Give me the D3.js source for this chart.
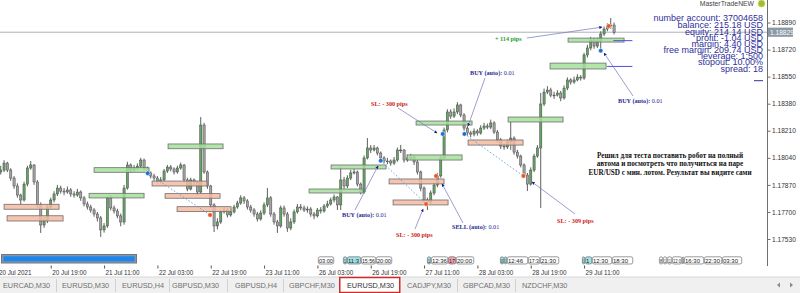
<!DOCTYPE html>
<html><head><meta charset="utf-8">
<script src="https://cdn.jsdelivr.net/npm/d3@7"></script>
<style>html,body{margin:0;padding:0;background:#fff;overflow:hidden}</style>
</head><body><svg id="c" width="800" height="293" xmlns="http://www.w3.org/2000/svg"></svg>
<script>
// ---------- DATA ----------
const firstOpen = 1.17932;
const closes = [
1.17951,1.17963,1.18007,1.17963,1.17913,1.17863,1.17806,1.17775,1.17875,1.17976,
1.17995,1.17888,1.17744,1.17618,1.17649,1.17731,1.17775,1.17813,1.17850,1.17831,
1.17825,1.17838,1.17813,1.17806,1.17825,1.17788,1.17750,1.17731,1.17712,1.17687,
1.17662,1.17587,1.17612,1.17788,1.17725,1.17706,1.17675,1.17637,1.17850,1.17995,
1.17963,1.17976,1.17988,1.18026,1.17976,1.17945,1.17926,1.17913,1.17894,1.17901,
1.17957,1.17982,1.17970,1.17951,1.17976,1.17995,1.17901,1.17844,1.17901,1.17888,
1.17825,1.18246,1.17951,1.17863,1.17744,1.17612,1.17637,1.17700,1.17712,1.17681,
1.17700,1.17731,1.17756,1.17788,1.17769,1.17731,1.17712,1.17687,1.17656,1.17693,
1.17744,1.17788,1.17687,1.17637,1.17612,1.17725,1.17687,1.17599,1.17637,1.17700,
1.17731,1.17725,1.17712,1.17718,1.17687,1.17675,1.17712,1.17706,1.17737,1.17750,
1.17775,1.17794,1.17744,1.17901,1.17863,1.17913,1.17945,1.17951,1.17875,1.17825,
1.18039,1.18102,1.18089,1.18102,1.18070,1.18039,1.18020,1.18020,1.18007,1.18026,
1.18089,1.18089,1.18026,1.18039,1.18045,1.18014,1.17951,1.17850,1.17775,1.17762,
1.17819,1.17869,1.17926,1.18039,1.18215,1.18328,1.18302,1.18328,1.18372,1.18309,
1.18227,1.18196,1.18189,1.18208,1.18196,1.18227,1.18240,1.18233,1.18259,1.18202,
1.18152,1.18114,1.18108,1.18139,1.18164,1.18076,1.18051,1.17995,1.17932,1.17875,
1.17963,1.18051,1.18102,1.18378,1.18453,1.18466,1.18434,1.18434,1.18447,1.18416,
1.18478,1.18529,1.18516,1.18529,1.18547,1.18541,1.18686,1.18730,1.18780,1.18742,
1.18774,1.18818,1.18849,1.18868,1.18874,1.18829];
const highs = [
1.17970,1.17990,1.18025,1.18015,1.17975,1.17925,1.17880,1.17815,1.17890,1.17990,
1.18020,1.18000,1.17900,1.17760,1.17670,1.17745,1.17790,1.17830,1.17870,1.17865,
1.17850,1.17860,1.17850,1.17830,1.17845,1.17835,1.17800,1.17765,1.17745,1.17725,
1.17700,1.17675,1.17630,1.17800,1.17805,1.17740,1.17720,1.17690,1.17870,1.18015,
1.18005,1.17995,1.18005,1.18040,1.18035,1.17985,1.17955,1.17940,1.17925,1.17920,
1.17970,1.17995,1.17995,1.17980,1.17990,1.18010,1.18000,1.17915,1.17915,1.17910,
1.17895,1.18296,1.18260,1.17960,1.17870,1.17755,1.17660,1.17715,1.17730,1.17725,
1.17720,1.17745,1.17770,1.17805,1.17800,1.17780,1.17745,1.17725,1.17700,1.17710,
1.17760,1.17850,1.17800,1.17700,1.17650,1.17740,1.17740,1.17700,1.17660,1.17715,
1.17750,1.17750,1.17740,1.17735,1.17730,1.17700,1.17725,1.17730,1.17750,1.17770,
1.17790,1.17810,1.17800,1.17982,1.17920,1.17930,1.17965,1.17970,1.17960,1.17885,
1.18055,1.18164,1.18120,1.18120,1.18110,1.18080,1.18050,1.18040,1.18030,1.18045,
1.18105,1.18121,1.18095,1.18060,1.18065,1.18055,1.18025,1.17960,1.17860,1.17790,
1.17835,1.17885,1.17945,1.18055,1.18230,1.18345,1.18345,1.18350,1.18390,1.18380,
1.18320,1.18240,1.18210,1.18225,1.18220,1.18245,1.18260,1.18255,1.18280,1.18270,
1.18215,1.18165,1.18130,1.18155,1.18270,1.18175,1.18090,1.18060,1.18005,1.17945,
1.17980,1.18065,1.18120,1.18447,1.18475,1.18490,1.18480,1.18455,1.18465,1.18460,
1.18495,1.18545,1.18540,1.18550,1.18565,1.18560,1.18700,1.18750,1.18800,1.18795,
1.18795,1.18835,1.18865,1.18885,1.18918,1.18890];
const lows = [
1.17910,1.17935,1.17950,1.17950,1.17895,1.17845,1.17790,1.17745,1.17765,1.17860,
1.17965,1.17870,1.17725,1.17568,1.17600,1.17630,1.17720,1.17760,1.17800,1.17815,
1.17805,1.17815,1.17795,1.17790,1.17795,1.17770,1.17735,1.17715,1.17695,1.17670,
1.17640,1.17543,1.17570,1.17600,1.17710,1.17690,1.17660,1.17610,1.17620,1.17840,
1.17945,1.17950,1.17965,1.17975,1.17960,1.17930,1.17910,1.17895,1.17880,1.17880,
1.17890,1.17945,1.17955,1.17935,1.17940,1.17965,1.17885,1.17830,1.17835,1.17870,
1.17805,1.17815,1.17940,1.17845,1.17725,1.17574,1.17590,1.17625,1.17690,1.17665,
1.17670,1.17690,1.17720,1.17745,1.17750,1.17715,1.17695,1.17670,1.17640,1.17645,
1.17680,1.17730,1.17670,1.17620,1.17568,1.17600,1.17670,1.17575,1.17585,1.17625,
1.17690,1.17710,1.17700,1.17695,1.17670,1.17655,1.17665,1.17690,1.17695,1.17725,
1.17740,1.17760,1.17712,1.17712,1.17845,1.17850,1.17900,1.17935,1.17860,1.17810,
1.17815,1.18030,1.18070,1.18080,1.18055,1.18020,1.18005,1.18000,1.17990,1.17995,
1.18015,1.18070,1.18010,1.18015,1.18025,1.17995,1.17935,1.17830,1.17755,1.17712,
1.17750,1.17805,1.17855,1.17915,1.18030,1.18200,1.18285,1.18290,1.18315,1.18295,
1.18210,1.18180,1.18170,1.18175,1.18180,1.18185,1.18215,1.18220,1.18220,1.18190,
1.18135,1.18095,1.18090,1.18095,1.18090,1.18060,1.18035,1.17980,1.17915,1.17831,
1.17865,1.17950,1.18040,1.17725,1.18365,1.18440,1.18420,1.18410,1.18425,1.18395,
1.18405,1.18465,1.18500,1.18505,1.18520,1.18525,1.18530,1.18670,1.18715,1.18725,
1.18730,1.18704,1.18805,1.18835,1.18850,1.18815];

const timeLabels = ["20 Jul 2021","20 Jul 19:00","21 Jul 11:00","22 Jul 03:00","22 Jul 19:00","23 Jul 11:00",
  "26 Jul 03:00","26 Jul 19:00","27 Jul 11:00","28 Jul 03:00","28 Jul 19:00","29 Jul 11:00"];
const timeLabelBars = [0,16,32,48,64,80,96,112,128,144,160,176];
const priceTicks = [1.17530,1.17700,1.17870,1.18040,1.18210,1.18380,1.18550,1.18720,1.18890];
const currentPrice = 1.18829;

// order levels: [startBar, endBar, upperPrice, lowerPrice]
const buyLevels = [
 [29.0,45.5,1.17978,1.17949],[27.5,44.0,1.17817,1.17788],[51.2,67.7,1.18127,1.18097],
 [93.5,109.7,1.17844,1.17819],[100.1,116.6,1.17995,1.17970],[122.9,139.4,1.18058,1.18026],
 [125.6,142.4,1.18271,1.18246],[153.2,169.7,1.18296,1.18265],[165.8,182.6,1.18635,1.18598],
 [171.2,188.0,1.18792,1.18767]];
const sellLevels = [
 [2.0,18.5,1.17748,1.17717],[2.9,19.7,1.17676,1.17643],[46.4,62.9,1.17894,1.17863],
 [50.3,66.8,1.17815,1.17786],[53.9,70.1,1.17733,1.17702],[117.5,134.0,1.17907,1.17876],
 [118.7,135.2,1.17775,1.17744],[141.2,157.7,1.18152,1.18120]];
// deals: [bar, price]
const buyDeals = [[45.1,1.17943],[115.0,1.18022],[133.6,1.18190],[140.1,1.18190],[181.0,1.18713]];
const sellDeals = [[63.8,1.17681],[128.6,1.17750],[131.6,1.17926],[157.8,1.17926],[183.4,1.18868]];
const dealLinks = [[0,0],[1,1],[3,3]];
// position lines: [startBar, endBar, price]
const posLines = [[184.8,190.5,1.18776],[182.9,190.5,1.18614]];

// annotations: text parts, arrow target [bar, price], text anchor (px), line start (px)
const notes = [
 {parts:[["BUY (auto):",1],[" 0.01",0]], color:"#2a2a90", target:[114.2,1.17989], tx:342, ty:217, lx:355, ly:210},
 {parts:[["SL: - 300 pips",1]], color:"#cc1a1a", target:[131.9,1.18196], tx:371, ty:106, lx:398, ly:108},
 {parts:[["BUY (auto):",1],[" 0.01",0]], color:"#2a2a90", target:[141.2,1.18240], tx:470, ty:75, lx:485, ly:78},
 {parts:[["SL: - 300 pips",1]], color:"#cc1a1a", target:[127.7,1.17718], tx:396, ty:237, lx:415, ly:229},
 {parts:[["SELL (auto):",1],[" 0.01",0]], color:"#2a2a90", target:[133.4,1.17876], tx:452, ty:229, lx:463, ly:223},
 {parts:[["SL: - 309 pips",1]], color:"#cc1a1a", target:[160.4,1.17888], tx:557, ty:223, lx:575, ly:214},
 {parts:[["BUY (auto):",1],[" 0.01",0]], color:"#2a2a90", target:[182.0,1.18698], tx:618, ty:103, lx:633, ly:96},
 {parts:[["+ 114 pips",1]], color:"#22a022", target:[181.4,1.18861], tx:495, ty:41, lx:527, ly:38}
];
const commentLines = ["Решил для теста поставить робот на полный",
  "автома и посмотреть что получиться на паре",
  "EUR/USD с мин. лотом. Результат вы видите сами"];
const infoLines = ["number account: 37004658","balance: 215.18 USD","equity: 214.14 USD","profit: -1.04 USD",
  "margin: 4.40 USD","free margin: 209.74 USD","leverage: 1:500","stopout: 10.00%","spread: 18"];
const tabs = ["EURCAD,M30","EURUSD,M30","EURUSD,H4","GBPUSD,M30","GBPUSD,H4","GBPCHF,M30","EURUSD,M30","CADJPY,M30","GBPCAD,M30","NZDCHF,M30"];
const activeTab = 6;
// time tags: [startBar, endBar, text, kind]
const timeTags = [
 [96.2,101.0,"03:00","w"],[103.7,104.9,"1","c"],[104.9,109.1,"11:3","c"],[109.1,113.6,"15:56","w"],[113.6,118.4,"20:00","w"],
 [128.9,130.1,"1","c"],[130.1,135.2,"12:36","w"],[135.2,137.6,"17","p"],[137.6,143.0,"20:00","w"],
 [150.8,152.0,"0","c"],[152.0,152.9,"1","c"],[152.9,159.2,"12:46","w"],[159.2,162.8,"17:3","w"],[162.8,168.5,"21:30","w"],
 [175.4,176.3,"1","c"],[176.3,178.4,"1","c"],[178.4,184.4,"12:30","w"],[184.4,190.7,"18:30","w"],
 [198.5,199.7,"8","w"],[199.7,200.9,"1","w"],[200.9,202.4,"11","w"],[202.4,205.4,"12:0","w"],[205.4,206.0,"1","w"],
 [206.0,212.0,"16:30","w"],[212.0,217.4,"22:30","w"],[217.4,223.4,"03:30","w"]];

// ---------- DRAW ----------
const svg = d3.select("#c");
const SANS = "'Liberation Sans', Arial, sans-serif";
const SERIF = "'Liberation Serif', 'Times New Roman', serif";
const axisX = 767;
const x = d3.scaleLinear().domain([0, 185]).range([-2.6, -2.6 + 185*10/3]);
const y = d3.scaleLinear().domain([1.17530, 1.18890]).range([239, 22.5]);

svg.append("rect").attr("width",800).attr("height",293).attr("fill","#fff");
const defs = svg.append("defs");
defs.append("clipPath").attr("id","plot").append("rect").attr("x",0).attr("y",0).attr("width",axisX).attr("height",266);
defs.append("marker").attr("id","ah").attr("viewBox","0 0 8 8").attr("refX",7).attr("refY",4)
  .attr("markerWidth",4.5).attr("markerHeight",4.5).attr("orient","auto")
  .append("path").attr("d","M0,0L8,4L0,8z").attr("fill","#1c1c8c");

const plot = svg.append("g").attr("clip-path","url(#plot)");

// bid line
plot.append("line").attr("x1",0).attr("x2",axisX).attr("y1",y(currentPrice)).attr("y2",y(currentPrice))
  .attr("stroke","#a9b1ba").attr("stroke-width",1);

function levels(data, fill){
  plot.append("g").selectAll("rect").data(data).join("rect")
    .attr("x",d=>x(d[0])).attr("width",d=>x(d[1])-x(d[0]))
    .attr("y",d=>y(d[2])).attr("height",d=>y(d[3])-y(d[2]))
    .attr("fill",fill).attr("stroke","#6e6e6e").attr("stroke-width",0.8);
}

// candles
const candles = closes.map((c,i)=>({i, o: i===0 ? firstOpen : closes[i-1], c, h: highs[i], l: lows[i]}));
const cg = plot.append("g");
cg.selectAll("line").data(candles).join("line")
  .attr("x1",d=>x(d.i)).attr("x2",d=>x(d.i)).attr("y1",d=>y(d.h)).attr("y2",d=>y(d.l))
  .attr("stroke","#4d4d4d").attr("stroke-width",0.9);
cg.selectAll("rect").data(candles).join("rect")
  .attr("x",d=>x(d.i)-1.1).attr("width",2.2)
  .attr("y",d=>y(Math.max(d.o,d.c))).attr("height",d=>Math.max(0.8, Math.abs(y(d.o)-y(d.c))))
  .attr("fill",d=>d.c>=d.o ? "#63a463" : "#a3a3a3").attr("stroke","#4a4a4a").attr("stroke-width",0.5);

levels(buyLevels, "rgba(165,224,155,0.85)");
levels(sellLevels, "rgba(246,186,162,0.85)");

// position lines
plot.append("g").selectAll("line").data(posLines).join("line")
  .attr("x1",d=>x(d[0])).attr("x2",d=>x(d[1])).attr("y1",d=>y(d[2])).attr("y2",d=>y(d[2]))
  .attr("stroke","#5050e0").attr("stroke-width",1);

// deal links
plot.append("g").selectAll("line").data(dealLinks).join("line")
  .attr("x1",d=>x(buyDeals[d[0]][0])).attr("y1",d=>y(buyDeals[d[0]][1]))
  .attr("x2",d=>x(sellDeals[d[1]][0])).attr("y2",d=>y(sellDeals[d[1]][1]))
  .attr("stroke","#5a9ad8").attr("stroke-width",0.9).attr("stroke-dasharray","1.5,2");

function deals(data, fill){
  plot.append("g").selectAll("circle").data(data).join("circle")
    .attr("cx",d=>x(d[0])).attr("cy",d=>y(d[1])).attr("r",2.3)
    .attr("fill",fill).attr("stroke","#fff").attr("stroke-width",0.5);
}
deals(buyDeals,"#1f6fd0");
deals(sellDeals,"#ee5420");

// annotations
const ng = plot.append("g");
notes.forEach(n=>{
  ng.append("line").attr("x1",n.lx).attr("y1",n.ly).attr("x2",x(n.target[0])).attr("y2",y(n.target[1]))
    .attr("stroke","#7474bc").attr("stroke-width",0.7).attr("marker-end","url(#ah)");
  const t = ng.append("text").attr("x",n.tx).attr("y",n.ty).attr("font-family",SERIF)
    .attr("font-size",6.2).attr("fill",n.color);
  n.parts.forEach(p=>t.append("tspan").text(p[0]).attr("font-weight",p[1]?"bold":"normal"));
});

// comment block
svg.append("g").selectAll("text").data(commentLines).join("text")
  .attr("x",670).attr("y",(d,i)=>157.5+i*8.6).attr("text-anchor","middle")
  .attr("font-family",SERIF).attr("font-weight","bold").attr("font-size",7.2).attr("fill","#111").text(d=>d);

// price axis
svg.append("line").attr("x1",axisX+0.5).attr("x2",axisX+0.5).attr("y1",0).attr("y2",266)
  .attr("stroke","#6f6f6f").attr("stroke-width",1);
const ya = svg.append("g").attr("transform",`translate(${axisX+0.5},0)`)
  .call(d3.axisRight(y).tickValues(priceTicks).tickFormat(d3.format(".5f")).tickSize(3).tickPadding(1.5));
ya.select(".domain").remove();
ya.selectAll("line").attr("stroke","#6f6f6f");
ya.selectAll("text").attr("font-family",SANS).attr("font-size",6.6).attr("fill","#333");

// current price box
svg.append("rect").attr("x",axisX+1).attr("y",y(currentPrice)-4.6).attr("width",25).attr("height",9.2).attr("fill","#8b98a5");
svg.append("text").attr("x",axisX+3).attr("y",y(currentPrice)+2.4).attr("font-family",SANS).attr("font-size",6.6)
  .attr("fill","#fff").text(d3.format(".5f")(currentPrice));

// time axis
const xa = svg.append("g").attr("transform","translate(0,265.5)")
  .call(d3.axisBottom(x).tickValues(timeLabelBars).tickFormat((d,k)=>timeLabels[k]).tickSize(3).tickPadding(2));
xa.select(".domain").remove();
xa.selectAll("line").attr("stroke","#555");
xa.selectAll("text").attr("text-anchor","start").attr("dx",1).attr("font-family",SANS).attr("font-size",6.3).attr("fill","#333");

// time tags (text squeezed to the tag width)
const tagFill = {w:"#ffffff", c:"#a5e3e8", p:"#f3a3b3"};
const tg = svg.append("g");
timeTags.forEach(t=>{
  const x0 = x(t[0]), x1 = x(t[1]);
  const w = Math.max(1, x1-x0-0.6);
  tg.append("rect").attr("x",x0+0.3).attr("y",256.8).attr("width",w).attr("height",7.2)
    .attr("rx",1.8).attr("fill",tagFill[t[3]]).attr("stroke","#555").attr("stroke-width",0.6);
  const txt = tg.append("text").attr("x",x0+0.9).attr("y",262.6).attr("font-family",SANS)
    .attr("font-size",6).attr("fill","#222").text(t[2]);
  const avail = Math.max(0.8, w-1.4);
  if (txt.node().getComputedTextLength() > avail) {
    txt.attr("textLength",avail).attr("lengthAdjust","spacingAndGlyphs");
  }
});

// scroll bar
svg.append("rect").attr("x",1.5).attr("y",254.5).attr("width",135).attr("height",8.5).attr("fill","#8796a6").attr("stroke","#6c7886");
svg.append("rect").attr("x",3.5).attr("y",256.3).attr("width",131).attr("height",5).attr("fill","#1d86ec");

// tab bar
svg.append("rect").attr("x",0).attr("y",277).attr("width",800).attr("height",16).attr("fill","#f0f0f0");
svg.append("line").attr("x1",0).attr("x2",800).attr("y1",277).attr("y2",277).attr("stroke","#d6d6d6");
const tabX = [3,62,122,172,235,289,347,407,463,522];
const sepX = [56,115,169,227,283,457,515];
svg.append("g").selectAll("line").data(sepX).join("line")
  .attr("x1",d=>d+0.5).attr("x2",d=>d+0.5).attr("y1",279).attr("y2",292).attr("stroke","#d0d0d0");
svg.append("rect").attr("x",339.75).attr("y",277.5).attr("width",60).attr("height",15).attr("fill","#fff")
  .attr("stroke","#d02a2a").attr("stroke-width",1.5);
svg.append("g").selectAll("text").data(tabs).join("text")
  .attr("x",(d,i)=>tabX[i]).attr("y",287.6).attr("font-family",SANS).attr("font-size",7.3)
  .attr("fill",(d,i)=>i===activeTab?"#333":"#707070").text(d=>d);
svg.append("path").attr("d","M780,282.5L777,285L780,287.5z").attr("fill","#8a8a8a");
svg.append("path").attr("d","M790,282.5L793,285L790,287.5z").attr("fill","#8a8a8a");

// header
svg.append("text").attr("x",754).attr("y",6.2).attr("text-anchor","end").attr("font-family",SANS)
  .attr("font-size",6.8).attr("fill","#444").text("MasterTradeNEW");
svg.append("circle").attr("cx",761.5).attr("cy",3.6).attr("r",3.3).attr("fill","#8cc63f").attr("stroke","#e3c12a").attr("stroke-width",0.8);

// info panel
const infoY = [20.6,28.3,34.6,40.6,46.5,52.9,59.2,65.3,71.8];
svg.append("g").selectAll("text").data(infoLines).join("text")
  .attr("x",763).attr("y",(d,i)=>infoY[i]).attr("text-anchor","end").attr("font-family",SANS)
  .attr("font-size",9).attr("fill","#30309a").text(d=>d);
svg.append("line").attr("x1",754).attr("x2",763).attr("y1",80.7).attr("y2",80.7).attr("stroke","#30309a").attr("stroke-width",1);
</script></body></html>
